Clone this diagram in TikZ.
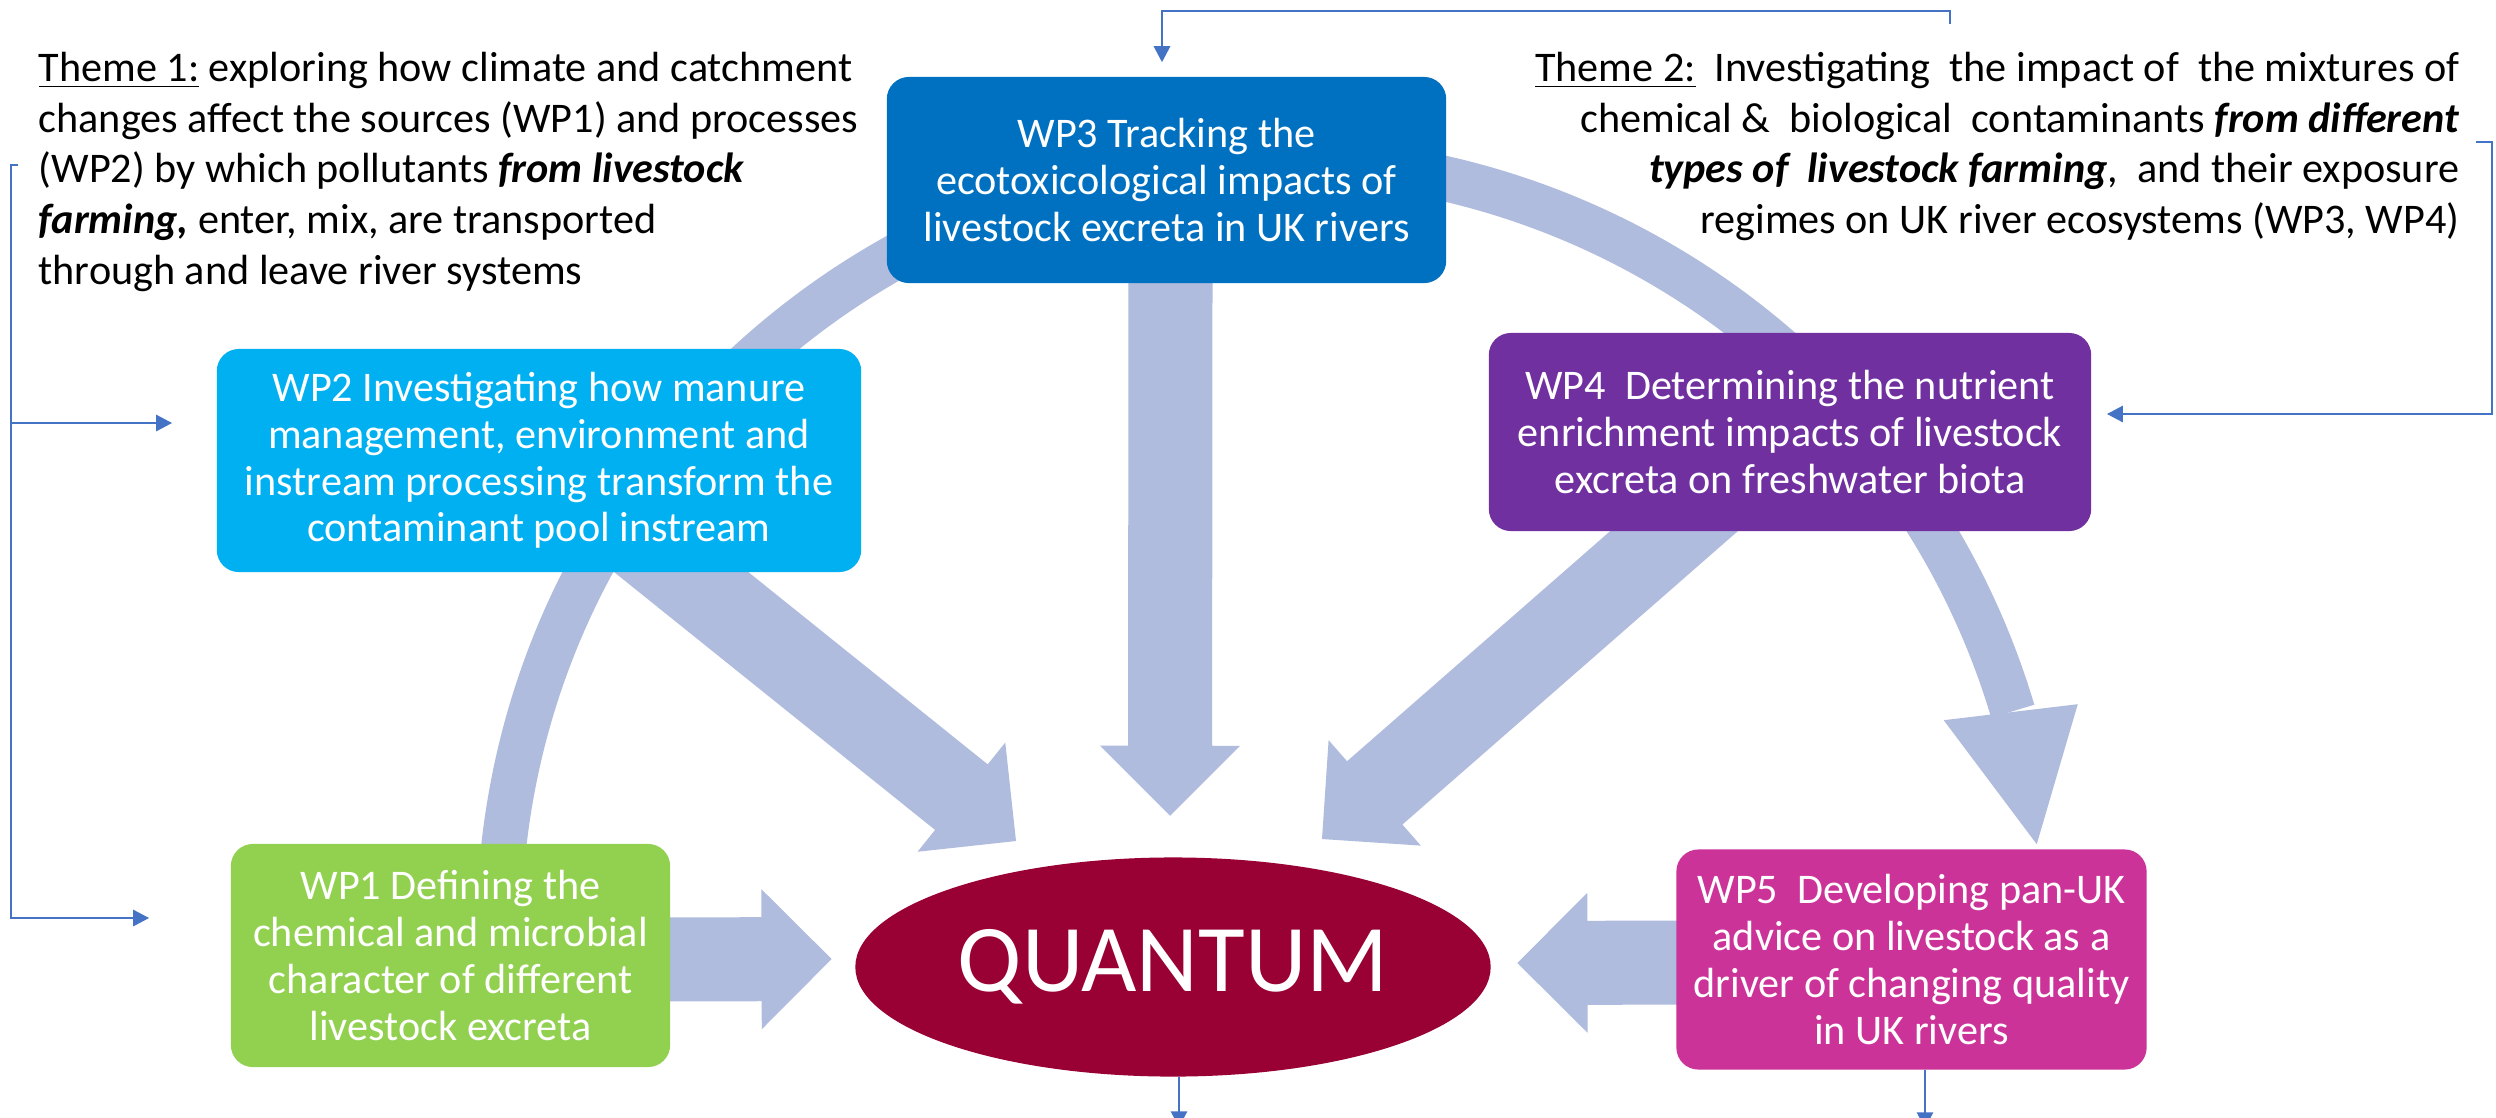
\documentclass[tikz,border=0pt]{standalone}
\usepackage{fontspec}
\setmainfont{Carlito}
\usetikzlibrary{calc,positioning,arrows.meta,shapes.geometric,backgrounds}

\definecolor{flowblue}{RGB}{176,188,222}
\definecolor{linkblue}{RGB}{68,114,196}
\definecolor{wpgreen}{RGB}{146,208,80}
\definecolor{wpcyan}{RGB}{0,176,240}
\definecolor{wpblue}{RGB}{0,112,192}
\definecolor{wppurple}{RGB}{112,48,160}
\definecolor{wppink}{RGB}{204,51,153}
\definecolor{qred}{RGB}{153,0,51}

% wide block arrow: #1 = start, #2 = tip
\def\flowarrow#1#2{
  \coordinate (#1-base) at ($(#2)!0.7cm!(#1)$);
  \fill[flow] ($(#1)!0.42cm!90:(#2)$) -- ($(#1-base)!0.42cm!90:(#2)$)
     -- ($(#1-base)!0.7cm!90:(#2)$) -- (#2)
     -- ($(#1-base)!0.7cm!-90:(#2)$) -- ($(#1-base)!0.42cm!-90:(#2)$)
     -- ($(#1)!0.42cm!-90:(#2)$) -- cycle;
}

\tikzset{
  wp schemes/.style = {
    x = 0.01cm, y = 0.01cm,
    % boxes
    wp box/.style = {
      rectangle, rounded corners=0.22cm,
      align=center, text=white, inner sep=0pt,
      font=\fontsize{12}{13.3}\selectfont
    },
    theme text/.style = {inner sep=0pt, font=\fontsize{12}{14.5}\selectfont},
    % arrows
    flow/.style      = {fill=flowblue},
    flow line/.style = {draw=flowblue, line width=0.45cm},
    link/.style      = {draw=linkblue, line width=0.8pt,
                        -{Triangle[length=0.16cm,width=0.16cm]}},
  }
}

\begin{document}
\begin{tikzpicture}[wp schemes]

  \useasboundingbox (0,0) rectangle (2496,-1117);

  % work packages
  \node[wp box, fill=wpblue, minimum width=5.59cm, minimum height=2.06cm]
    (wp3) at (1166.5,-180) {WP3 Tracking the\\ecotoxicological impacts of\\livestock excreta in UK rivers};
  \node[wp box, fill=wpcyan, minimum width=6.44cm, minimum height=2.23cm]
    (wp2) at (539,-460.5) {WP2 Investigating how manure\\management, environment and\\instream processing transform the\\contaminant pool instream};
  \node[wp box, fill=wpgreen, minimum width=4.39cm, minimum height=2.23cm]
    (wp1) at (450.5,-955.5) {WP1 Defining the\\chemical and microbial\\character of different\\livestock excreta};
  \node[wp box, fill=wppurple, minimum width=6.02cm, minimum height=1.98cm]
    (wp4) at (1790,-432) {WP4~~Determining the nutrient\\enrichment impacts of livestock\\excreta on freshwater biota};
  \node[wp box, fill=wppink, minimum width=4.70cm, minimum height=2.20cm]
    (wp5) at (1911.5,-959.5) {WP5~~Developing pan-UK\\advice on livestock as a\\driver of changing quality\\in UK rivers};

  \node[ellipse, fill=qred, text=white, inner sep=0pt,
        minimum width=6.35cm, minimum height=2.19cm,
        font=\fontsize{27.2}{30}\selectfont]
    (quantum) at (1173,-967) {QUANTUM};

  % themes
  \node[theme text, anchor=north west, align=left] (theme1) at (38,-51)
    {\underline{Theme 1:} exploring how climate and catchment\\
     changes affect the sources (WP1) and processes\\
     (WP2) by which pollutants \textbf{\textit{from livestock}}\\
     \textbf{\textit{farming,}} enter, mix, are transported\\
     through and leave river systems};
  \node[theme text, anchor=north east, align=right] (theme2) at (2460,-51)
    {\underline{Theme 2:}~~Investigating~~the impact of~~the mixtures of\\
     chemical \&~~biological~~contaminants \textbf{\textit{from different}}\\
     \textbf{\textit{types of~~livestock farming}},~~and their exposure\\
     regimes on UK river ecosystems (WP3, WP4)};

  \begin{scope}[on background layer]
    \fill[white] (0,0) rectangle (2496,-1117);

    % ring WP1 -> WP2 -> WP3 -> WP4 -> WP5
    \coordinate (ringc) at (1272,-932);
    \draw[flow line] (ringc) ++(176:773) arc[start angle=176, end angle=16.6, radius=773]
      coordinate (arcend);
    \fill[flow] ($(arcend)+(-69,-9)$) -- ($(arcend)+(24,-133)$) -- ($(arcend)+(65,7)$) -- cycle;

    % flows into QUANTUM
    \coordinate (a1) at ($(wp1.east)+(-20,-4)$);
    \coordinate (q1) at ($(quantum.west)+(-23,8)$);
    \coordinate (a2) at ($(wp2.south)+(97,37)$);
    \coordinate (q2) at ($(quantum.center)+(-157,126)$);
    \coordinate (a3) at ($(wp3.south)+(4,20)$);
    \coordinate (q3) at ($(quantum.north)+(-3,41)$);
    \coordinate (a4) at ($(wp4.south)+(-71,40)$);
    \coordinate (q4) at ($(quantum.center)+(149,128)$);
    \coordinate (a5) at ($(wp5.west)+(20,-3)$);
    \coordinate (q5) at ($(quantum.east)+(26,4)$);
    \flowarrow{a1}{q1}
    \flowarrow{a2}{q2}
    \flowarrow{a3}{q3}
    \flowarrow{a4}{q4}
    \flowarrow{a5}{q5}
  \end{scope}

  % theme brackets
  \coordinate (lefttick)  at (18,-165);
  \coordinate (leftfork)  at (11,-423);
  \coordinate (toptick)   at (1950,-24);
  \coordinate (righttick) at (2476,-142);

  \draw[link] (lefttick) -- ++(-7,0) |- ($(wp1.west)+(-81,37.5)$);
  \draw[link] (leftfork) -- ($(wp2.west)+(-44,37.5)$);
  \draw[link] (toptick) -- ++(0,13) -| ($(wp3.north)+(-4.5,14)$);
  \draw[link] (righttick) -- ++(16,0) |- ($(wp4.east)+(15,18)$);

  % outputs
  \draw[link] ($(quantum.south)+(6,0)$) -- ++(0,-50);
  \draw[link] ($(wp5.south)+(13.5,0)$) -- ++(0,-58);

\end{tikzpicture}
\end{document}
